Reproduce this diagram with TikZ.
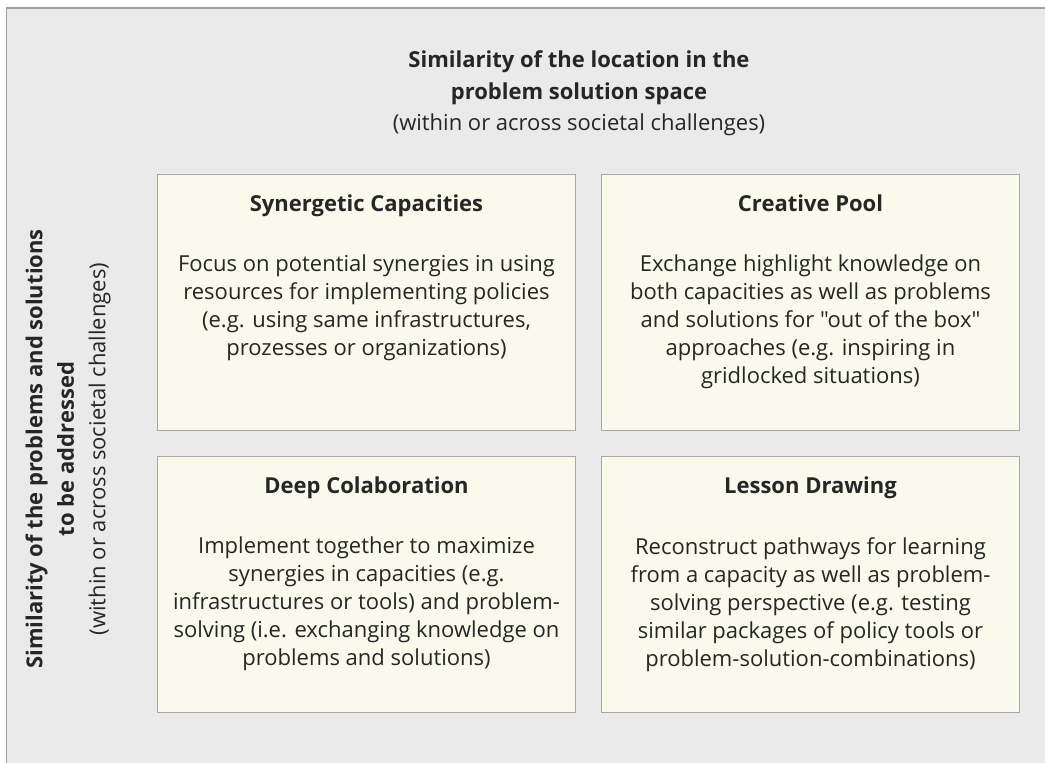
\documentclass[tikz,border=0pt]{standalone}
\usepackage{fontspec}
\setmainfont{Open Sans}[Ligatures=TeXOff]
\usetikzlibrary{calc}
\definecolor{bgc}{HTML}{EAEAEA}
\definecolor{bgline}{HTML}{A0A0A0}
\definecolor{boxfill}{HTML}{F9F9EC}
\definecolor{boxline}{HTML}{A8A8A8}
\definecolor{txt}{HTML}{262626}
\begin{document}
\begin{tikzpicture}[x=1pt,y=-1pt,
  quad/.style={draw=boxline,fill=boxfill,line width=1pt,minimum width=418pt,minimum height=256pt,inner sep=0pt,anchor=north west},
  qtitle/.style={font=\fontsize{22}{28}\selectfont\bfseries,text=txt,anchor=base,inner sep=0pt},
  qbody/.style={font=\fontsize{22}{28}\selectfont,text=txt,align=center,anchor=north,inner sep=0pt},
  head/.style={font=\fontsize{22}{31.5}\selectfont,text=txt,align=center,inner sep=0pt}]
\useasboundingbox (0,0) rectangle (1045,763);
\begin{scope}
\clip (0,0) rectangle (1045,763);
\draw[draw=bgline,fill=bgc,line width=1.2pt] (6.5,8) rectangle (1060,780);
\end{scope}
\node[quad] (q1) at (157,174) {};
\node[quad] (q2) at (601,174) {};
\node[quad] (q3) at (157,456) {};
\node[quad] (q4) at (601,456) {};
\node[qtitle] (t1) at ($(q1.north)+(0,37.5)$) {Synergetic Capacities};
\node[qtitle] (t2) at ($(q2.north)+(0,37.5)$) {Creative Pool};
\node[qtitle] (t3) at ($(q3.north)+(0,37.5)$) {Deep Colaboration};
\node[qtitle] (t4) at ($(q4.north)+(0,37.5)$) {Lesson Drawing};
\node[qbody] (b1) at ($(q1.north)+(0,81)$) {Focus on potential synergies in using\\resources for implementing policies\\(e.g. using same infrastructures,\\prozesses or organizations)};
\node[qbody] (b2) at ($(q2.north)+(0,81)$) {Exchange highlight knowledge on\\both capacities as well as problems\\and solutions for "out of the box"\\approaches (e.g. inspiring in\\gridlocked situations)};
\node[qbody] (b3) at ($(q3.north)+(0,81)$) {Implement together to maximize\\synergies in capacities (e.g.\\infrastructures or tools) and problem-\\solving (i.e. exchanging knowledge on\\problems and solutions)};
\node[qbody] (b4) at ($(q4.north)+(0,81)$) {Reconstruct pathways for learning\\from a capacity as well as problem-\\solving perspective (e.g. testing\\similar packages of policy tools or\\problem-solution-combinations)};
\node[head] (top) at (579,93.5) {\textbf{Similarity of the location in the}\\\textbf{problem solution space}\\(within or across societal challenges)};
\node[head,rotate=90] (left) at (68,449) {\textbf{Similarity of the problems and solutions}\\\textbf{to be addressed}\\(within or across societal challenges)};
\end{tikzpicture}
\end{document}
